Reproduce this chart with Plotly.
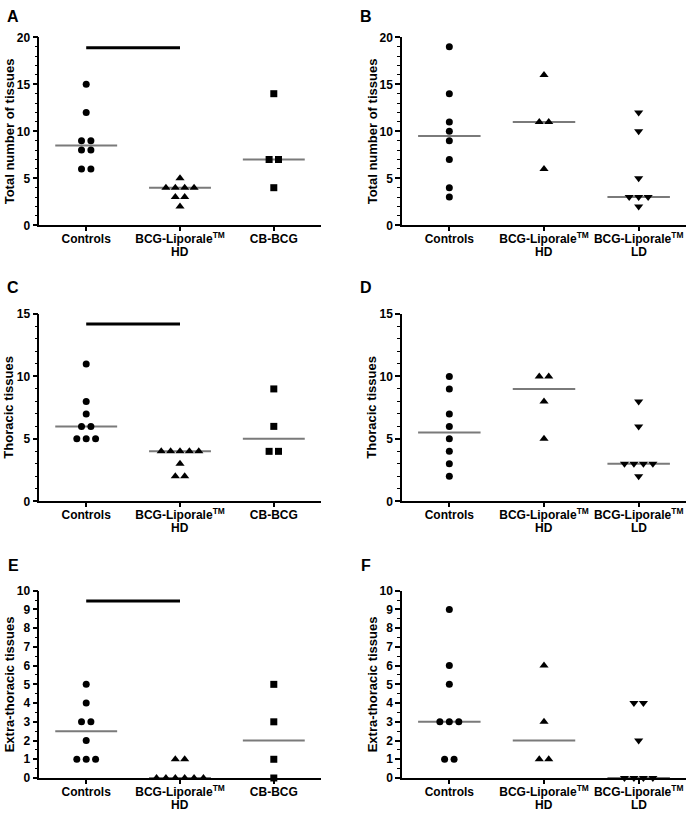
import numpy as np
import plotly.graph_objects as go

# Values (number of tissues per animal)
a_controls = [15, 12, 9, 9, 8, 8, 6, 6]
a_hd = [5, 4, 4, 4, 4, 3, 3, 2]
a_cb = [14, 7, 7, 4]

b_controls = [19, 14, 11, 10, 9, 7, 4, 3]
b_hd = [16, 11, 11, 6]
b_ld = [12, 10, 5, 3, 3, 3, 2]

c_controls = [11, 8, 7, 6, 6, 5, 5, 5]
c_hd = [4, 4, 4, 4, 4, 3, 2, 2]
c_cb = [9, 6, 4, 4]

d_controls = [10, 9, 7, 6, 5, 4, 3, 2]
d_hd = [10, 10, 8, 5]
d_ld = [8, 6, 3, 3, 3, 3, 2]

e_controls = [5, 4, 3, 3, 2, 1, 1, 1]
e_hd = [1, 1, 0, 0, 0, 0, 0, 0]
e_cb = [5, 3, 1, 0]

f_controls = [9, 6, 5, 3, 3, 3, 1, 1]
f_hd = [6, 3, 1, 1]
f_ld = [4, 4, 2, 0, 0, 0, 0]

# category labels: first line as tick text, second line below it
labels_left = ['Controls', 'BCG-Liporale<sup>TM</sup>', 'CB-BCG']
labels_right = ['Controls', 'BCG-Liporale<sup>TM</sup>', 'BCG-Liporale<sup>TM</sup>']
sublabels_left = ['', 'HD', '']
sublabels_right = ['', 'HD', 'LD']

titles = ['Total number of tissues', 'Thoracic tissues', 'Extra-thoracic tissues']
y_max = [20, 15, 10]
sig_level = [18.9, 14.2, 9.45]   # Controls vs HD bar, left panels only

panels = [
    ('A', [a_controls, a_hd, a_cb], 0, 0),
    ('B', [b_controls, b_hd, b_ld], 0, 1),
    ('C', [c_controls, c_hd, c_cb], 1, 0),
    ('D', [d_controls, d_hd, d_ld], 1, 1),
    ('E', [e_controls, e_hd, e_cb], 2, 0),
    ('F', [f_controls, f_hd, f_ld], 2, 1),
]

W, H = 693, 815
x_dom = [[39.3 / W, 320.7 / W], [402 / W, 686 / W]]
y_dom = [[1 - 225.3 / H, 1 - 37.3 / H],
         [1 - 501.3 / H, 1 - 314 / H],
         [1 - 778 / H, 1 - 590.7 / H]]
letter_y = [1 - 17 / H, 1 - 288 / H, 1 - 565 / H]
letter_x = [13 / W, 366 / W]
ytitle_x = [9 / W, 372 / W]

symbols_left = ['circle', 'triangle-up', 'square']
symbols_right = ['circle', 'triangle-up', 'triangle-down']
sizes = {'circle': 7, 'triangle-up': 8, 'square': 7, 'triangle-down': 8}

FONT = 'Liberation Sans, Arial, sans-serif'


def spread(vals, step=0.1):
    # spread tied values side by side around the category centre
    vals = list(vals)
    out = []
    seen = {}
    for v in vals:
        n = vals.count(v)
        k = seen.get(v, 0)
        seen[v] = k + 1
        out.append((k - (n - 1) / 2) * step)
    return out


fig = go.Figure()
annotations = []

for i, (letter, groups, row, col) in enumerate(panels):
    n = i + 1
    xa = 'x' if n == 1 else 'x%d' % n
    ya = 'y' if n == 1 else 'y%d' % n
    syms = symbols_left if col == 0 else symbols_right
    ticktext = labels_left if col == 0 else labels_right
    subtext = sublabels_left if col == 0 else sublabels_right

    for g, vals in enumerate(groups):
        med = float(np.median(vals))
        fig.add_trace(go.Scatter(
            x=[g - 0.33, g + 0.33], y=[med, med], mode='lines',
            line=dict(color='#7a7a7a', width=2),
            xaxis=xa, yaxis=ya, showlegend=False, hoverinfo='skip',
            cliponaxis=False))
        offs = spread(vals)
        fig.add_trace(go.Scatter(
            x=[g + o for o in offs], y=vals, mode='markers',
            marker=dict(symbol=syms[g], size=sizes[syms[g]], color='black'),
            xaxis=xa, yaxis=ya, showlegend=False, cliponaxis=False))

    if col == 0:
        lvl = sig_level[row]
        fig.add_trace(go.Scatter(
            x=[0, 1], y=[lvl, lvl], mode='lines',
            line=dict(color='black', width=3),
            xaxis=xa, yaxis=ya, showlegend=False, hoverinfo='skip',
            cliponaxis=False))

    big = y_max[row]
    major = 1 if big == 10 else 5
    minor = 0.5 if big == 10 else 1

    fig.update_layout(**{
        ('xaxis' if n == 1 else 'xaxis%d' % n): dict(
            domain=x_dom[col], anchor=ya, range=[-0.5, 2.5],
            tickvals=[0, 1, 2], ticktext=ticktext, automargin=False,
            ticks='outside', ticklen=4, tickwidth=1.5, tickcolor='black',
            ticklabelstandoff=-2,
            showline=True, linecolor='black', linewidth=1.5,
            showgrid=False, zeroline=False, fixedrange=True,
            tickfont=dict(family=FONT, size=12, color='black', weight='bold')),
        ('yaxis' if n == 1 else 'yaxis%d' % n): dict(
            domain=y_dom[row], anchor=xa, range=[0, big],
            dtick=major, tick0=0, automargin=False,
            ticks='outside', ticklen=5, tickwidth=1.5, tickcolor='black',
            minor=dict(dtick=minor, ticks='outside', ticklen=3,
                       tickwidth=1, tickcolor='black'),
            showline=True, linecolor='black', linewidth=1.5,
            showgrid=False, zeroline=False, fixedrange=True,
            tickfont=dict(family=FONT, size=12, color='black', weight='bold')),
    })

    for g, s in enumerate(subtext):
        if s:
            annotations.append(dict(
                text=s, xref=xa, yref='paper', x=g, y=y_dom[row][0],
                yshift=-27, showarrow=False, xanchor='center', yanchor='middle',
                font=dict(family=FONT, size=12, color='black', weight='bold')))

    annotations.append(dict(
        text=letter, xref='paper', yref='paper',
        x=letter_x[col], y=letter_y[row], showarrow=False,
        xanchor='center', yanchor='middle',
        font=dict(family=FONT, size=16, color='black', weight='bold')))
    annotations.append(dict(
        text=titles[row], xref='paper', yref='paper', textangle=-90,
        x=ytitle_x[col], y=sum(y_dom[row]) / 2, showarrow=False,
        xanchor='center', yanchor='middle',
        font=dict(family=FONT, size=13, color='black', weight='bold')))

fig.update_layout(
    width=W, height=H,
    margin=dict(l=0, r=0, t=0, b=0),
    paper_bgcolor='white', plot_bgcolor='white',
    annotations=annotations,
)

# page body has a default 8px margin; drop it so the figure fills the window
fig.write_html('out.html', config={'displayModeBar': False},
               post_script="document.body.style.margin='0';")
